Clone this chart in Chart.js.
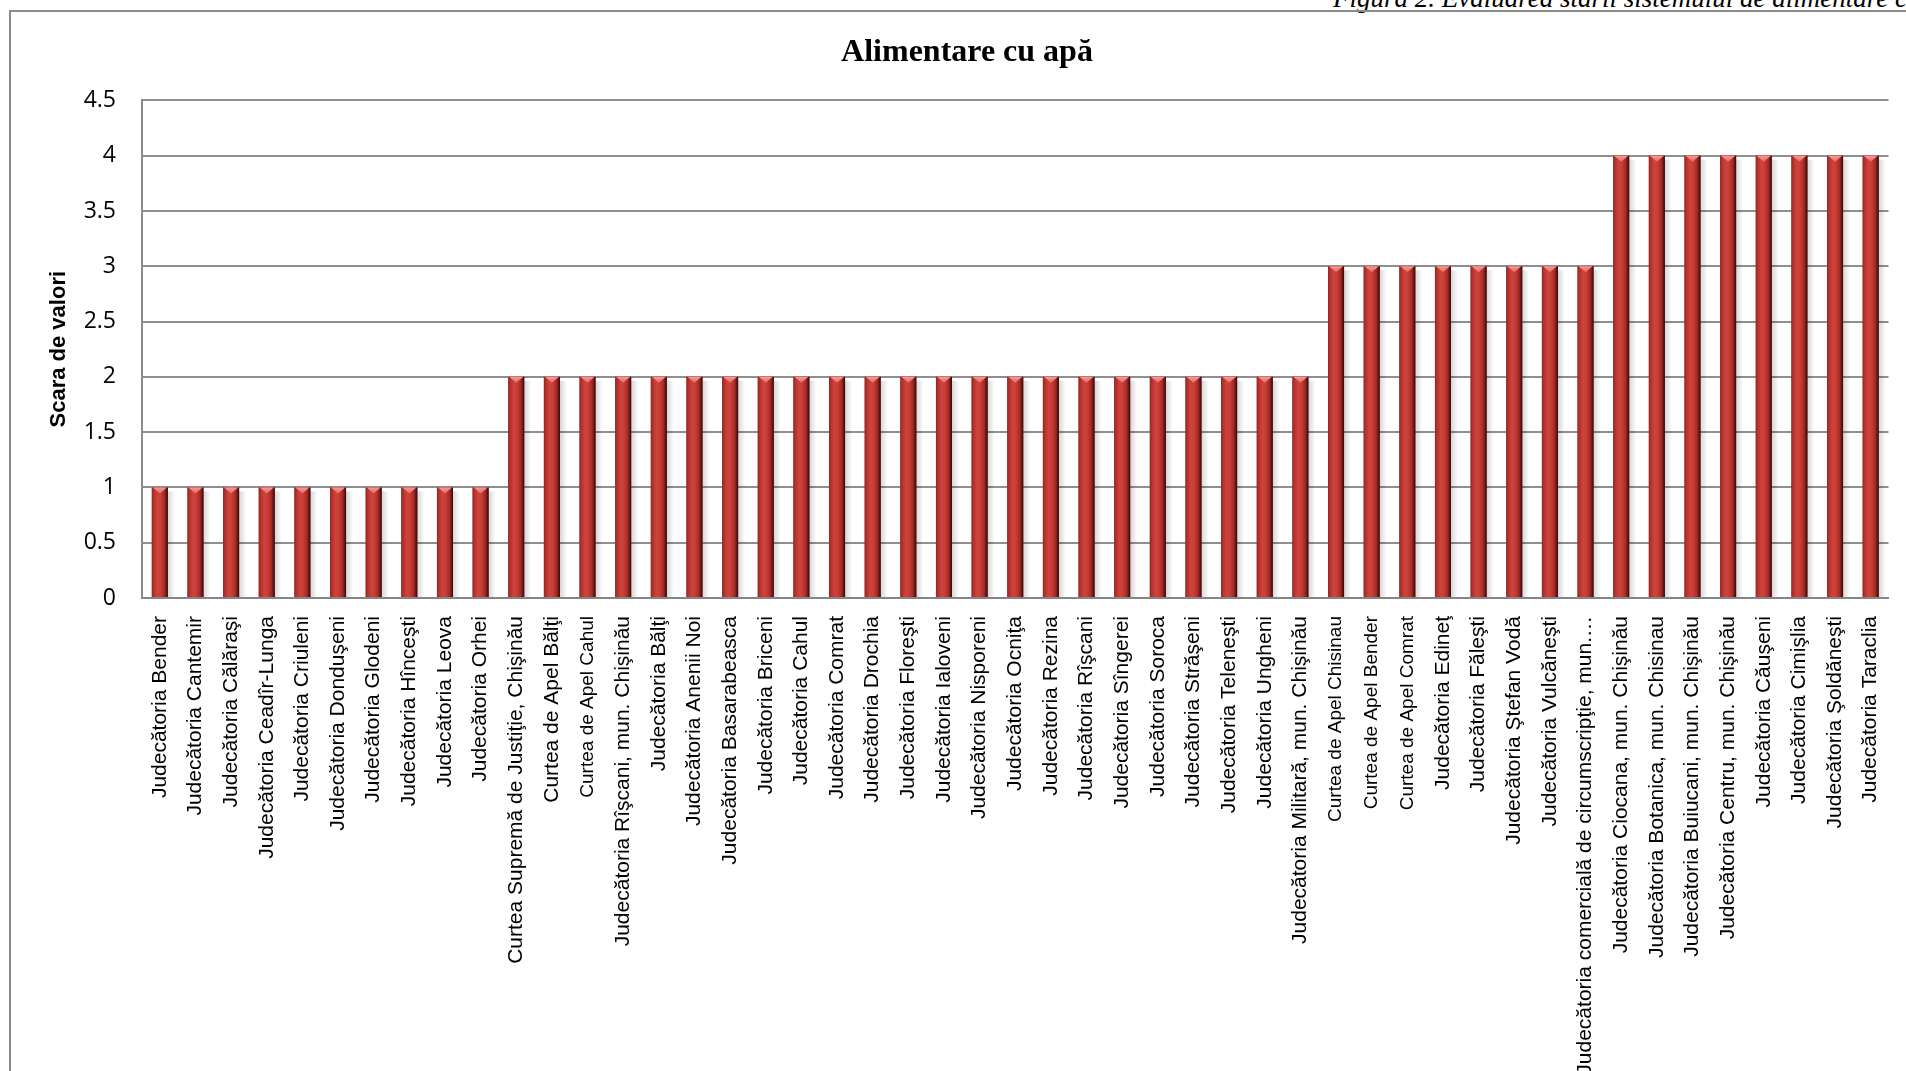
<!DOCTYPE html>
<html>
<head>
<meta charset="utf-8">
<script src="https://cdn.jsdelivr.net/npm/chart.js@4.4.1/dist/chart.umd.min.js"></script>
<style>
html,body{margin:0;padding:0;background:#fff;overflow:hidden;width:1906px;height:1071px;}
#wrap{position:relative;width:1906px;height:1071px;overflow:hidden;}
#frame{position:absolute;left:9px;top:10px;width:2000px;height:2000px;border-left:2px solid #8c8c8c;border-top:2px solid #8c8c8c;}
#cap{position:absolute;left:1333px;top:-15px;white-space:nowrap;font-family:"Liberation Serif","Times New Roman",serif;font-style:italic;font-size:27px;line-height:27px;color:#000;}
canvas{position:absolute;left:0;top:0;}
</style>
</head>
<body>
<div id="wrap">
  <div id="cap">Figura 2. Evaluarea stării sistemului de alimentare cu apă</div>
  <div id="frame"></div>
  <canvas id="c" width="1906" height="1071"></canvas>
</div>
<script>
const chartTitle = "Alimentare cu apă";
const yAxisTitle = "Scara de valori";

const categories = [
  "Judecătoria Bender",
  "Judecătoria Cantemir",
  "Judecătoria Călăraşi",
  "Judecătoria Ceadîr-Lunga",
  "Judecătoria Criuleni",
  "Judecătoria Donduşeni",
  "Judecătoria Glodeni",
  "Judecătoria Hînceşti",
  "Judecătoria Leova",
  "Judecătoria Orhei",
  "Curtea Supremă de Justiţie, Chişinău",
  "Curtea de Apel Bălţi",
  "Curtea de Apel Cahul",
  "Judecătoria Rîşcani, mun. Chişinău",
  "Judecătoria Bălţi",
  "Judecătoria Anenii Noi",
  "Judecătoria Basarabeasca",
  "Judecătoria Briceni",
  "Judecătoria Cahul",
  "Judecătoria Comrat",
  "Judecătoria Drochia",
  "Judecătoria Floreşti",
  "Judecătoria Ialoveni",
  "Judecătoria Nisporeni",
  "Judecătoria Ocniţa",
  "Judecătoria Rezina",
  "Judecătoria Rîşcani",
  "Judecătoria Sîngerei",
  "Judecătoria Soroca",
  "Judecătoria Străşeni",
  "Judecătoria Teleneşti",
  "Judecătoria Ungheni",
  "Judecătoria Militară, mun. Chişinău",
  "Curtea de Apel Chisinau",
  "Curtea de Apel Bender",
  "Curtea de Apel Comrat",
  "Judecătoria Edineţ",
  "Judecătoria Făleşti",
  "Judecătoria Ştefan Vodă",
  "Judecătoria Vulcăneşti",
  "Judecătoria comercială de circumscripţie, mun.…",
  "Judecătoria Ciocana, mun. Chişinău",
  "Judecătoria Botanica, mun. Chisinau",
  "Judecătoria Buiucani, mun. Chişinău",
  "Judecătoria Centru, mun. Chişinău",
  "Judecătoria Căuşeni",
  "Judecătoria Cimişlia",
  "Judecătoria Şoldăneşti",
  "Judecătoria Taraclia"
];

const values = [
  1, 1, 1, 1, 1, 1, 1, 1, 1, 1,
  2, 2, 2, 2, 2, 2, 2, 2, 2, 2,
  2, 2, 2, 2, 2, 2, 2, 2, 2, 2,
  2, 2, 2,
  3, 3, 3, 3, 3, 3, 3, 3,
  4, 4, 4, 4, 4, 4, 4, 4
];

// labels printed in a slightly smaller font in the original
const smallFontLabels = [
  "Curtea de Apel Cahul",
  "Curtea de Apel Chisinau",
  "Curtea de Apel Bender",
  "Curtea de Apel Comrat"
];

const yTickValues = [0, 0.5, 1, 1.5, 2, 2.5, 3, 3.5, 4, 4.5];
const yTickLabels = ["0", "0.5", "1", "1.5", "2", "2.5", "3", "3.5", "4", "4.5"];

const barStyle = {
  id: 'barStyle',
  afterDatasetsDraw(chart) {
    const ctx = chart.ctx;
    const meta = chart.getDatasetMeta(0);
    meta.data.forEach(bar => {
      const p = bar.getProps(['x', 'y', 'base', 'width'], true);
      const l = p.x - p.width / 2, r = p.x + p.width / 2, h = p.base - p.y;
      ctx.save();
      // soft shadow on the right
      const sg = ctx.createLinearGradient(r, 0, r + 7, 0);
      sg.addColorStop(0, 'rgba(0,0,0,0.16)');
      sg.addColorStop(1, 'rgba(0,0,0,0)');
      ctx.fillStyle = sg;
      ctx.fillRect(r, p.y + 4, 7, h - 4);
      // cylinder body
      const g = ctx.createLinearGradient(l, 0, r, 0);
      g.addColorStop(0.00, '#8e2622');
      g.addColorStop(0.12, '#b3322d');
      g.addColorStop(0.35, '#cf433d');
      g.addColorStop(0.55, '#c93d37');
      g.addColorStop(0.78, '#a42b27');
      g.addColorStop(0.92, '#5e1513');
      g.addColorStop(1.00, '#2c0606');
      ctx.fillStyle = g;
      ctx.fillRect(l, p.y, p.width, h);
      // top cap
      const cg = ctx.createLinearGradient(0, p.y, 0, p.y + 7);
      cg.addColorStop(0, '#f59a96');
      cg.addColorStop(1, '#e0605c');
      ctx.beginPath();
      ctx.moveTo(l + 1, p.y);
      ctx.lineTo(r - 1, p.y);
      ctx.lineTo(p.x, p.y + 6);
      ctx.closePath();
      ctx.fillStyle = cg;
      ctx.fill();
      ctx.restore();
    });
  }
};

new Chart(document.getElementById('c'), {
  type: 'bar',
  data: {
    labels: categories,
    datasets: [{
      label: chartTitle,
      data: values,
      backgroundColor: '#c0392f',
      borderWidth: 0,
      barPercentage: 0.45,
      categoryPercentage: 1.0
    }]
  },
  options: {
    responsive: false,
    animation: false,
    layout: { padding: { left: 38, right: 10, top: 0, bottom: 0 } },
    plugins: {
      legend: { display: false },
      tooltip: { enabled: false },
      title: {
        display: true,
        text: chartTitle,
        color: '#000',
        font: { family: '"Liberation Serif", "Times New Roman", serif', size: 32, weight: 'bold' },
        padding: { top: 34, bottom: 28 }
      }
    },
    scales: {
      x: {
        grid: { display: false },
        border: { display: true, color: '#858585', width: 2 },
        ticks: {
          autoSkip: false,
          minRotation: 90,
          maxRotation: 90,
          padding: 10,
          color: '#000',
          font: (ctx) => ({
            family: '"Liberation Sans", Arial, sans-serif',
            size: smallFontLabels.includes(categories[ctx.index]) ? 19 : 21
          })
        },
        afterFit: (scale) => { scale.height = 1071 - 598; }
      },
      y: {
        min: 0,
        max: 4.5,
        afterBuildTicks: (scale) => { scale.ticks = yTickValues.map(v => ({ value: v })); },
        grid: { color: '#8f8f8f', lineWidth: 2, drawTicks: false },
        border: { display: true, color: '#8c8c8c', width: 2 },
        ticks: {
          padding: 26,
          color: '#000',
          font: { family: '"Open Sans", "Liberation Sans", sans-serif', size: 23 },
          callback: (value) => {
            const i = yTickValues.indexOf(value);
            return i >= 0 ? yTickLabels[i] : '';
          }
        },
        title: {
          display: true,
          text: yAxisTitle,
          color: '#000',
          font: { family: '"Liberation Sans", Arial, sans-serif', size: 22, weight: 'bold' },
          padding: { top: 8, bottom: 0 }
        },
        afterFit: (scale) => { scale.width = 142 - 38; }
      }
    }
  },
  plugins: [barStyle]
});
</script>
</body>
</html>
